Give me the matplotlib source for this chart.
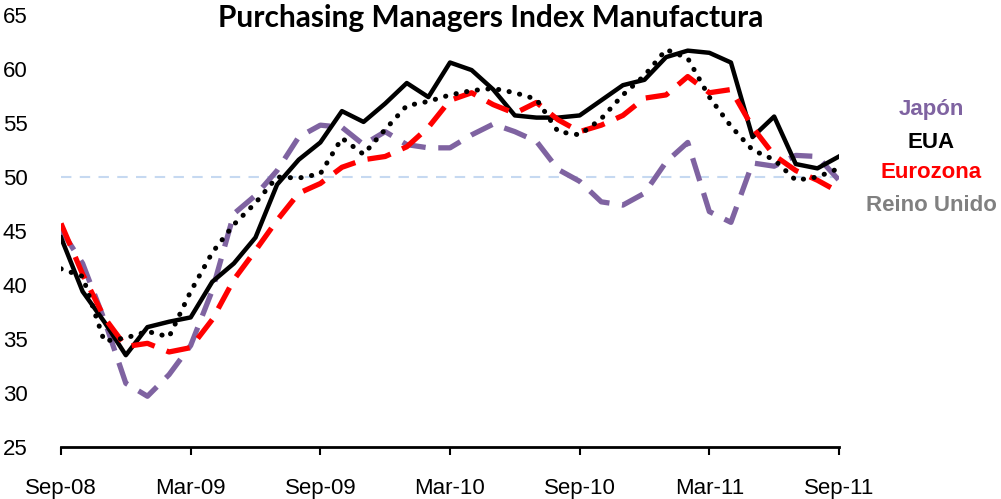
import pandas as pd
import matplotlib
matplotlib.use("Agg")
from matplotlib import pyplot as plt

# monthly PMI readings, Sep-08 .. Sep-11
months = pd.date_range("2008-09-01", periods=37, freq="MS")
japon = [45.1, 42.0, 36.8, 30.9, 29.7, 31.7, 34.4, 39.5, 46.6, 48.3,
         50.6, 53.7, 54.8, 54.6, 53.0, 54.2, 53.0, 52.7, 52.7, 53.9,
         54.9, 54.2, 53.3, 50.7, 49.6, 47.7, 47.4, 48.5, 51.4, 53.2,
         46.8, 45.8, 51.3, 51.0, 52.0, 51.9, 49.7]
eua = [44.4, 39.4, 36.6, 33.5, 36.1, 36.6, 37.0, 40.3, 42.0, 44.4,
       49.3, 51.6, 53.2, 56.1, 55.1, 56.8, 58.7, 57.4, 60.6, 59.9,
       58.1, 55.7, 55.5, 55.5, 55.7, 57.1, 58.5, 59.0, 61.1, 61.7,
       61.5, 60.6, 53.7, 55.6, 51.2, 50.8, 51.9]
eurozona = [45.7, 41.0, 37.0, 34.3, 34.6, 33.8, 34.2, 36.8, 40.5, 43.2,
            46.0, 48.5, 49.4, 50.9, 51.6, 51.9, 52.8, 54.6, 57.1, 57.8,
            56.7, 55.9, 56.9, 55.3, 54.2, 54.8, 55.7, 57.3, 57.6, 59.3,
            57.8, 58.1, 54.6, 52.0, 50.6, 49.7, 48.6]
reino_unido = [41.5, 40.8, 34.8, 35.1, 35.7, 35.2, 39.4, 43.0, 45.6, 47.6,
               50.0, 49.9, 50.3, 53.6, 52.1, 54.4, 56.6, 57.0, 57.6, 58.0,
               58.2, 57.8, 57.2, 54.2, 53.9, 55.4, 57.6, 59.4, 61.8, 61.0,
               57.4, 54.7, 52.5, 51.6, 49.7, 50.0, 50.8]
labels = ["Japón", "EUA", "Eurozona", "Reino Unido"]
label_colors = ["#7F63A1", "black", "#FF0000", "#808080"]

plt.rcParams['font.family'] = ['Liberation Sans', 'DejaVu Sans']

fig = plt.figure(figsize=(10.01, 4.99), dpi=100)
ax = fig.add_axes([61/1001, 1 - 447/499, (839 - 61)/1001, (447 - 15)/499])

x = range(len(months))
ax.axhline(50, color="#C6D9F1", lw=1.5, ls=(0, (5, 4)), zorder=1)
ax.plot(x, japon, color="#7F63A1", lw=3.8, ls=(0, (4.5, 2.4)), zorder=2)
ax.plot(x, eua, color="black", lw=3.2, zorder=3)
ax.plot(x, eurozona, color="#FF0000", lw=3.8, ls=(0, (4.5, 2.4)), zorder=4)
ax.plot(x, reino_unido, color="black", lw=3.6, ls=(0, (0.05, 2.1)),
        dash_capstyle="round", zorder=5)

ax.set_xlim(0, 36)
ax.set_ylim(25, 65)
ax.set_yticks(range(25, 70, 5))
ax.set_xticks(range(0, 37, 6))
ax.set_xticklabels([m.strftime("%b-%y") for m in months[::6]])

for s in ["top", "right", "left"]:
    ax.spines[s].set_visible(False)
ax.spines["bottom"].set_linewidth(2)
ax.tick_params(axis="y", length=0, pad=24, labelsize=16)
ax.tick_params(axis="x", length=6, width=1.5, direction="out", pad=16, labelsize=16)

fig.text(491/1001, 1 - 18/499, "Purchasing Managers Index Manufactura",
         ha="center", va="center", fontsize=21.5, fontweight="bold", family=["Lato", "DejaVu Sans"])

for lab, col, yy in zip(labels, label_colors, [109, 142, 173, 205]):
    fig.text(931/1001, 1 - yy/499, lab, color=col, ha="center", va="center",
             fontsize=16, fontweight="bold")

fig.savefig("out.png", dpi=100)
